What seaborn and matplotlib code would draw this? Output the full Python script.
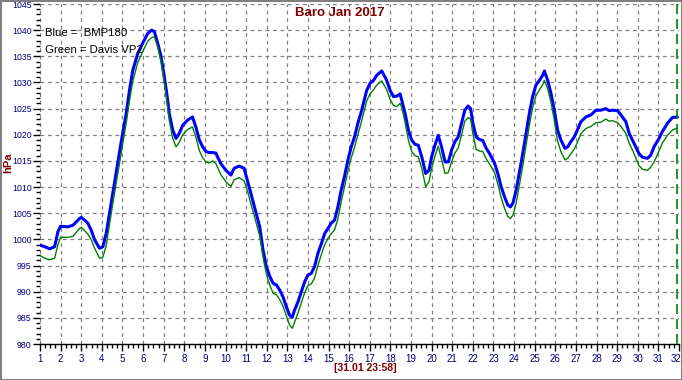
import matplotlib
matplotlib.use("Agg")
import matplotlib.pyplot as plt
import matplotlib.transforms as mtransforms
from matplotlib.ticker import MultipleLocator
from matplotlib.patches import Rectangle
import seaborn as sns
import pandas as pd

days = [1.00, 1.23, 1.47, 1.71, 1.87, 2.00, 2.35, 2.60, 2.92, 3.00, 3.16, 3.32, 3.48, 3.65, 3.89,
        4.05, 4.21, 4.37, 4.53, 4.69, 4.85, 4.98, 5.18, 5.34, 5.50, 5.74, 5.98, 6.23, 6.42, 6.55,
        6.71, 6.87, 7.03, 7.15, 7.27, 7.44, 7.60, 7.76, 7.92, 8.16, 8.40, 8.56, 8.73, 8.89, 9.05,
        9.21, 9.37, 9.53, 9.61, 9.77, 10.02, 10.26, 10.42, 10.66, 10.90, 11.06, 11.23, 11.39, 11.66,
        11.82, 11.98, 12.15, 12.31, 12.47, 12.63, 12.79, 12.95, 13.11, 13.24, 13.35, 13.52, 13.68,
        13.84, 14.00, 14.16, 14.32, 14.48, 14.65, 14.81, 14.97, 15.13, 15.29, 15.45, 15.61, 15.77,
        15.94, 16.10, 16.26, 16.42, 16.58, 16.85, 17.02, 17.18, 17.34, 17.58, 17.82, 17.98, 18.15,
        18.31, 18.47, 18.55, 18.71, 18.87, 19.03, 19.19, 19.35, 19.52, 19.71, 19.87, 20.00, 20.16,
        20.32, 20.48, 20.65, 20.81, 20.97, 21.13, 21.29, 21.45, 21.61, 21.77, 21.89, 22.00, 22.16,
        22.32, 22.48, 22.65, 22.81, 23.05, 23.21, 23.37, 23.53, 23.69, 23.82, 23.94, 24.10, 24.26,
        24.42, 24.58, 24.74, 24.90, 25.06, 25.23, 25.39, 25.47, 25.63, 25.79, 25.95, 26.11, 26.27,
        26.47, 26.60, 26.76, 26.92, 27.08, 27.24, 27.48, 27.73, 27.97, 28.21, 28.45, 28.61, 28.77,
        29.02, 29.18, 29.42, 29.58, 29.74, 29.90, 30.06, 30.23, 30.47, 30.63, 30.79, 31.03, 31.19,
        31.44, 31.68, 31.92]

bmp180 = [998.9, 998.6, 998.2, 998.6, 1001.5, 1002.5, 1002.4, 1002.7, 1004.0, 1004.2, 1003.7, 1003.1,
          1001.8, 999.9, 998.3, 998.6, 1001.1, 1005.0, 1008.8, 1012.6, 1016.4, 1019.6, 1024.0, 1028.5,
          1032.3, 1035.5, 1037.5, 1039.4, 1040.0, 1039.7, 1037.5, 1035.0, 1031.1, 1027.9, 1024.1,
          1020.9, 1019.3, 1020.3, 1021.8, 1022.8, 1023.4, 1021.5, 1019.0, 1017.7, 1016.8, 1016.6,
          1016.6, 1016.5, 1015.8, 1014.5, 1013.2, 1012.3, 1013.6, 1014.0, 1013.6, 1011.3, 1008.8,
          1006.4, 1002.4, 998.0, 994.8, 992.9, 991.6, 991.3, 990.3, 989.0, 987.1, 985.5, 985.1, 986.5,
          988.1, 990.0, 991.9, 993.2, 993.5, 994.8, 997.3, 999.2, 1001.1, 1002.1, 1003.1, 1003.7,
          1006.2, 1009.4, 1012.0, 1015.2, 1017.7, 1019.6, 1022.2, 1024.3, 1028.5, 1029.9, 1030.4,
          1031.4, 1032.2, 1030.4, 1028.5, 1027.3, 1027.4, 1027.8, 1026.6, 1024.1, 1020.9, 1019.0,
          1018.2, 1018.0, 1015.8, 1012.6, 1013.2, 1015.8, 1018.0, 1019.9, 1017.7, 1014.8, 1014.8,
          1017.1, 1018.7, 1019.6, 1022.2, 1024.7, 1025.5, 1025.0, 1022.2, 1019.6, 1019.1, 1018.9,
          1017.4, 1016.4, 1014.6, 1012.6, 1010.1, 1008.2, 1006.6, 1006.2, 1006.9, 1009.4, 1012.9,
          1016.4, 1020.3, 1024.1, 1027.3, 1029.5, 1030.4, 1031.4, 1032.2, 1030.4, 1027.9, 1024.7,
          1020.9, 1019.0, 1017.4, 1017.7, 1018.7, 1019.6, 1021.0, 1022.5, 1023.4, 1023.8, 1024.7,
          1024.7, 1025.0, 1024.6, 1024.7, 1024.6, 1023.8, 1022.5, 1020.3, 1019.0, 1017.7, 1016.4,
          1015.7, 1015.5, 1016.1, 1017.7, 1019.3, 1020.6, 1022.2, 1023.3, 1023.4]

davis_vp2 = [996.9, 996.4, 996.1, 996.4, 999.0, 1000.4, 1000.4, 1000.6, 1002.1, 1002.3, 1001.7, 1001.0,
             1000.0, 998.3, 996.4, 996.6, 998.8, 1002.8, 1006.8, 1010.6, 1014.5, 1017.6, 1022.2, 1026.5,
             1030.2, 1033.8, 1035.9, 1037.9, 1038.6, 1038.7, 1036.8, 1034.0, 1030.0, 1026.6, 1022.8,
             1019.3, 1017.7, 1018.6, 1020.0, 1021.0, 1021.5, 1019.6, 1017.0, 1015.6, 1014.8, 1014.6,
             1015.0, 1014.5, 1013.8, 1012.4, 1011.0, 1010.1, 1011.4, 1011.8, 1011.2, 1009.4, 1006.8,
             1004.6, 1000.6, 996.6, 993.4, 991.2, 989.7, 989.4, 988.5, 987.2, 985.4, 983.6, 983.0, 984.2,
             986.0, 987.9, 989.8, 991.2, 991.5, 992.6, 995.0, 997.1, 999.0, 1000.2, 1001.1, 1001.8,
             1003.9, 1007.2, 1010.0, 1013.1, 1015.6, 1017.6, 1020.0, 1022.3, 1026.5, 1027.9, 1028.6,
             1029.5, 1030.3, 1028.6, 1026.8, 1025.6, 1025.4, 1026.0, 1025.2, 1022.4, 1019.0, 1016.8,
             1016.0, 1015.8, 1013.6, 1010.1, 1011.0, 1013.6, 1015.9, 1017.8, 1015.3, 1012.6, 1012.8,
             1014.9, 1016.5, 1017.5, 1020.0, 1022.6, 1023.3, 1023.0, 1020.2, 1017.2, 1016.9, 1016.8,
             1015.4, 1014.4, 1012.8, 1010.6, 1008.0, 1006.0, 1004.4, 1004.0, 1004.6, 1006.9, 1010.4,
             1014.0, 1018.0, 1021.8, 1025.2, 1027.5, 1028.6, 1029.6, 1030.4, 1028.8, 1026.2, 1022.8,
             1018.8, 1016.8, 1015.2, 1015.5, 1016.4, 1017.3, 1018.6, 1020.2, 1021.2, 1021.6, 1022.3,
             1022.4, 1023.0, 1022.6, 1022.7, 1022.3, 1021.6, 1020.3, 1018.4, 1017.1, 1015.6, 1014.1,
             1013.4, 1013.2, 1013.8, 1014.8, 1016.9, 1018.4, 1019.9, 1020.9, 1021.3]

x_ticks = list(range(1, 33))
y_ticks = list(range(980, 1046, 5))

title = "Baro Jan 2017"
y_label = "hPa"
x_label = "[31.01 23:58]"
legend_lines = ["Blue =  BMP180", "Green = Davis VP2"]

df = pd.DataFrame({"day": days, "BMP180": bmp180, "Davis VP2": davis_vp2})

sns.set_style("white")
plt.rcParams["font.family"] = ["Liberation Sans", "DejaVu Sans"]

fig = plt.figure(figsize=(6.82, 3.80), dpi=100)
ax = fig.add_axes([40 / 682, 36 / 380, 639 / 682, 340 / 380])
ax.set_facecolor("white")

sns.lineplot(data=df, x="day", y="BMP180", ax=ax, color="#0000FF", linewidth=2.2, zorder=3)
sns.lineplot(data=df, x="day", y="Davis VP2", ax=ax, color="#008000", linewidth=1.0, zorder=4)

ax.axvline(days[-1], color="#008000", linestyle=(0, (6, 3)), linewidth=1.2, zorder=5)

ax.set_xlim(1, 32)
ax.set_ylim(980, 1045)
ax.set_xticks(x_ticks)
ax.set_yticks(y_ticks)
ax.xaxis.set_minor_locator(MultipleLocator(0.25))
ax.yaxis.set_minor_locator(MultipleLocator(1))

ax.grid(True, which="major", color="#808080", linestyle=(0, (3, 3)), linewidth=0.9)
for s in ["top", "right", "left"]:
    ax.spines[s].set_visible(False)
ax.spines["bottom"].set_color("black")
ax.spines["bottom"].set_linewidth(1.0)

ax.tick_params(axis="x", which="major", direction="out", length=5, width=1, color="black",
               labelsize=7, labelcolor="#000080", pad=2.5, bottom=True)
ax.tick_params(axis="x", which="minor", direction="out", length=3, width=1, color="black", bottom=True)
ax.tick_params(axis="y", which="major", direction="out", length=5, width=1, color="black",
               labelsize=6.3, labelcolor="#000080", pad=1, left=True)
ax.tick_params(axis="y", which="minor", direction="out", length=3, width=1, color="black", left=True)

ax.set_xlabel("")
ax.set_ylabel("")

# keep the last day label inside the frame, as in the reference
fig.canvas.draw()
last_lbl = ax.get_xticklabels()[-1]
last_lbl.set_transform(last_lbl.get_transform() +
                       mtransforms.ScaledTranslation(-3 / 100, 0, fig.dpi_scale_trans))

fig.text(340 / 682, 1 - 13 / 380, title, color="#800000", fontsize=9.5, fontweight="bold",
         ha="center", va="center")
fig.text(8 / 682, 1 - 163 / 380, y_label, color="#800000", fontsize=8, fontweight="bold",
         rotation=90, ha="center", va="center")
fig.text(365 / 682, 1 - 368 / 380, x_label, color="#800000", fontsize=7.6, fontweight="bold",
         ha="center", va="center")
fig.text(45 / 682, 1 - 33 / 380, legend_lines[0], color="black", fontsize=8.2, ha="left", va="center")
fig.text(45 / 682, 1 - 50 / 380, legend_lines[1], color="black", fontsize=8.2, ha="left", va="center")

fig.patches.append(Rectangle((0.5 / 682, 0.5 / 380), 681 / 682, 379 / 380, transform=fig.transFigure,
                             fill=False, edgecolor="#808080", linewidth=1.5))

fig.savefig("out.png", dpi=100)
